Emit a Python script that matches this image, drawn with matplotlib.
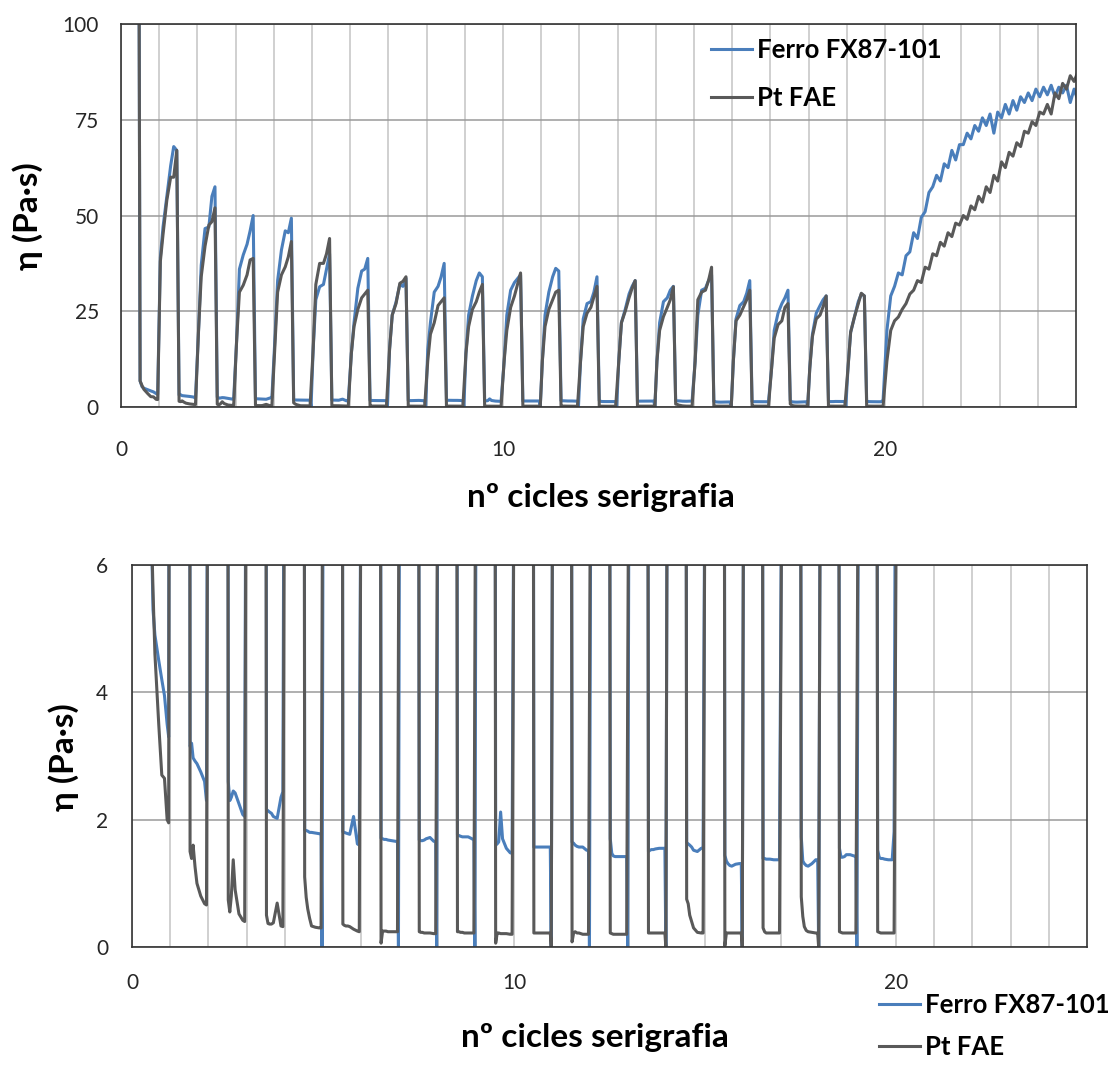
import numpy as np
import matplotlib.pyplot as plt
from matplotlib.lines import Line2D

plt.rcParams['font.family'] = ['Lato', 'DejaVu Sans']

# first sweep and the decay that follows it
start_x = [0.46, 0.50, 0.55, 0.60, 0.70, 0.78, 0.85, 0.92, 0.96]
ferro_start = [160, 6.8, 5.3, 4.9, 4.5, 4.2, 3.95, 3.5, 3.3]
pt_start = [160, 6.8, 5.6, 4.6, 3.5, 2.7, 2.65, 2.0, 1.95]

cycles = list(range(1, 20))

# sample points inside each cycle: printing stroke, then rest
stroke_t = [0.03, 0.10, 0.20, 0.30, 0.38, 0.46]
rest_t = [0.52, 0.56, 0.60, 0.65, 0.70, 0.80, 0.90, 0.95]

ferro_stroke = [
    [39, 47, 55, 63, 68, 67],
    [20, 37, 46.6, 47, 55, 57.5],
    [18, 36, 39.7, 42.5, 46, 50],
    [18, 33, 41, 46, 45.5, 49.3],
    [15, 28, 31.4, 32, 36, 40],
    [14, 22, 31, 35.5, 36, 38.8],
    [15, 24, 27.4, 32, 31.5, 33.6],
    [15, 22, 30, 31.5, 34, 37.5],
    [14, 24, 29, 33, 35, 34],
    [12, 24, 30.5, 32.5, 33.5, 34.5],
    [12, 24, 30, 34, 36.2, 35.5],
    [12, 23, 27, 27.5, 30, 34],
    [12, 22, 25.5, 29.5, 31.5, 33],
    [12, 22, 27.5, 28.5, 30.5, 31.5],
    [12, 24, 30.5, 31, 33, 34.5],
    [12, 23, 26.5, 27.5, 29.7, 33],
    [10, 20, 24.5, 27, 28.5, 30.5],
    [10, 19, 24.5, 26.5, 28, 29],
    [10, 19.5, 23.5, 27.5, 29.5, 29],
]
pt_stroke = [
    [38, 45, 54, 60, 60, 67],
    [20, 34, 42, 47.5, 48.4, 52],
    [18, 30, 31.8, 34.5, 38.4, 38.8],
    [16, 30, 34.5, 36.6, 39.2, 43.2],
    [15, 32, 37.5, 37.5, 40, 44],
    [14, 21, 25.5, 28.5, 29.5, 30.5],
    [15, 24, 27, 32.3, 32.8, 34],
    [12, 19, 22, 26.5, 27.5, 28.5],
    [14, 21, 25.5, 27.5, 30, 32],
    [12, 20, 26, 29, 32, 35],
    [12, 21, 25.5, 28, 30, 30.5],
    [12, 21, 24.5, 26, 28.8, 31.5],
    [12, 22, 25, 28.5, 31, 33],
    [12, 20, 23.6, 26, 28, 31.4],
    [12, 28, 30, 30.5, 33, 36.5],
    [12, 22.5, 24, 26.2, 28, 30.5],
    [10, 18, 21.5, 22.5, 26, 27],
    [10, 18.4, 23, 24, 26.2, 29],
    [10, 19.5, 23.5, 27, 29.7, 29],
]

ferro_rest = [
    [3.15, 3.2, 2.97, 2.92, 2.88, 2.75, 2.6, 2.3],
    [2.6, 2.3, 2.35, 2.45, 2.42, 2.25, 2.08, 2.05],
    [2.16, 2.14, 2.12, 2.1, 2.05, 2.02, 2.35, 2.44],
    [1.84, 1.83, 1.82, 1.8, 1.8, 1.79, 1.78, 1.78],
    [1.81, 1.8, 1.79, 1.78, 1.77, 2.05, 1.62, 1.6],
    [1.71, 1.7, 1.69, 1.69, 1.68, 1.67, 1.66, 1.66],
    [1.68, 1.67, 1.67, 1.68, 1.7, 1.72, 1.66, 1.66],
    [1.76, 1.75, 1.74, 1.73, 1.73, 1.73, 1.7, 1.68],
    [1.6, 1.62, 1.65, 2.12, 1.7, 1.55, 1.48, 1.47],
    [1.57, 1.57, 1.57, 1.57, 1.57, 1.57, 1.57, 1.57],
    [1.65, 1.63, 1.6, 1.58, 1.57, 1.57, 1.52, 1.52],
    [1.7, 1.47, 1.43, 1.42, 1.42, 1.42, 1.42, 1.42],
    [1.5, 1.52, 1.53, 1.53, 1.54, 1.55, 1.55, 1.55],
    [1.64, 1.62, 1.6, 1.57, 1.52, 1.5, 1.55, 1.55],
    [1.44, 1.35, 1.31, 1.28, 1.27, 1.3, 1.31, 1.31],
    [1.39, 1.39, 1.38, 1.38, 1.38, 1.37, 1.37, 1.37],
    [1.73, 1.35, 1.31, 1.28, 1.27, 1.31, 1.37, 1.37],
    [1.55, 1.41, 1.41, 1.42, 1.45, 1.45, 1.43, 1.43],
    [1.52, 1.41, 1.39, 1.39, 1.38, 1.37, 1.37, 1.81],
]
pt_rest = [
    [1.5, 1.39, 1.6, 1.26, 1.0, 0.8, 0.68, 0.66],
    [0.74, 0.55, 0.8, 1.37, 0.9, 0.52, 0.42, 0.4],
    [0.5, 0.37, 0.36, 0.36, 0.38, 0.69, 0.33, 0.32],
    [1.1, 0.78, 0.6, 0.45, 0.33, 0.31, 0.3, 0.3],
    [0.36, 0.34, 0.33, 0.33, 0.32, 0.28, 0.25, 0.24],
    [0.06, 0.25, 0.25, 0.25, 0.24, 0.24, 0.24, 0.24],
    [0.24, 0.23, 0.23, 0.22, 0.22, 0.22, 0.21, 0.21],
    [0.24, 0.24, 0.23, 0.23, 0.22, 0.22, 0.22, 0.22],
    [0.06, 0.22, 0.22, 0.21, 0.21, 0.21, 0.2, 0.2],
    [0.22, 0.22, 0.22, 0.22, 0.22, 0.22, 0.22, 0.22],
    [0.08, 0.22, 0.24, 0.22, 0.22, 0.2, 0.2, 0.2],
    [0.22, 0.21, 0.2, 0.2, 0.2, 0.2, 0.2, 0.2],
    [0.22, 0.22, 0.22, 0.22, 0.22, 0.22, 0.22, 0.22],
    [0.75, 0.68, 0.5, 0.4, 0.3, 0.23, 0.22, 0.22],
    [0.02, 0.22, 0.22, 0.22, 0.22, 0.22, 0.22, 0.22],
    [0.3, 0.24, 0.22, 0.22, 0.22, 0.22, 0.22, 0.22],
    [0.79, 0.48, 0.32, 0.26, 0.24, 0.23, 0.22, 0.22],
    [0.24, 0.23, 0.22, 0.22, 0.22, 0.22, 0.22, 0.22],
    [0.24, 0.23, 0.22, 0.22, 0.22, 0.22, 0.22, 0.22],
]

# reading taken just before the next stroke (None where there is none)
dip_t = 0.975
ferro_dip = [None, None, None, 0, None, 0, 0, 0, None, 0,
             0, 0, 0, None, 0, None, 0, 0, None]
pt_dip = [None, None, None, None, None, None, None, None, None, 0,
          None, None, 0, None, 0, None, 0, None, None]

# continuous shearing after cycle 20
tail_x = np.round(np.arange(20.05, 25.1, 0.1), 2)
ferro_tail = [20, 29, 31.5, 35, 34.5, 39.5, 40.5, 45.5, 44, 49.5,
              51, 56, 57.5, 60.5, 59, 63.5, 62.5, 67, 64.5, 68.5,
              68.5, 71.5, 70, 73.5, 72, 75.5, 73.5, 76.5, 71.5, 77,
              75.5, 79, 76.5, 80, 77.5, 81, 79.5, 82, 80, 83,
              81, 83.5, 81.5, 84, 81, 83.5, 82, 84, 79.5, 83, 80]
pt_tail = [12, 20, 22.5, 23.5, 25.5, 27, 29.5, 30.5, 33, 32.5,
           36.5, 36, 40, 39.5, 43, 42, 45.5, 44.5, 48, 47.5,
           50, 49, 52.5, 51.5, 55, 53.5, 57.5, 56, 60.5, 59,
           64, 62.5, 66.5, 65.5, 69, 68, 72, 71.5, 74.5, 73.5,
           77, 76.5, 79, 76.5, 82, 80.5, 84.5, 83, 86.5, 85, 87.5]

labels = ['Ferro FX87-101', 'Pt FAE']
colors = ['#4a7ebb', '#595959']


def build_series(start_y, stroke, rest, dip, tail_y):
    xs, ys = list(start_x), list(start_y)
    for n, s, r, d in zip(cycles, stroke, rest, dip):
        xs += [n + t for t in stroke_t]
        ys += s
        xs += [n + t for t in rest_t]
        ys += r
        if d is not None:
            xs.append(n + dip_t)
            ys.append(d)
    xs += list(tail_x)
    ys += tail_y
    return np.array(xs), np.array(ys)


series = [
    build_series(ferro_start, ferro_stroke, ferro_rest, ferro_dip, ferro_tail),
    build_series(pt_start, pt_stroke, pt_rest, pt_dip, pt_tail),
]

W, H = 1114, 1071
fig = plt.figure(figsize=(W / 100, H / 100), dpi=100)


def fx(px):
    return px / W


def fy(py):
    return 1 - py / H


ax1 = fig.add_axes([fx(121), fy(407), fx(1076 - 121), (407 - 24) / H])
ax2 = fig.add_axes([fx(132), fy(947), fx(1087 - 132), (947 - 565) / H])

LW = 2.2
panels = [(ax1, [0, 25, 50, 75, 100], 16, 24), (ax2, [0, 2, 4, 6], 17, 19)]
for ax, yticks, ypad, xpad in panels:
    for (x, y), c in zip(series, colors):
        ax.plot(x, y, color=c, lw=LW, solid_joinstyle='round')
    ax.set_xlim(0, 25)
    ax.set_ylim(yticks[0], yticks[-1])
    ax.set_yticks(yticks)
    ax.set_xticks([0, 10, 20])
    ax.set_xticks(range(1, 25), minor=True)
    ax.tick_params(which='both', length=0, labelsize=15, labelcolor='#262626')
    ax.tick_params(axis='y', pad=ypad)
    ax.tick_params(axis='x', pad=xpad)
    ax.grid(True, axis='x', which='both', color='#c8c8c8', lw=1.2)
    ax.grid(True, axis='y', which='major', color='#9a9a9a', lw=1.1)
    ax.set_axisbelow(True)
    for sp in ax.spines.values():
        sp.set_color('#333333')
        sp.set_linewidth(1.2)

label_kw = dict(fontsize=24, fontweight='bold', color='#000000')
fig.text(fx(28), fy(216), 'η (Pa·s)', rotation=90, ha='center', va='center', **label_kw)
fig.text(fx(64), fy(757), 'η (Pa·s)', rotation=90, ha='center', va='center', **label_kw)
fig.text(fx(601), fy(497), 'nº cicles serigrafia', ha='center', va='center', **label_kw)
fig.text(fx(595), fy(1037), 'nº cicles serigrafia', ha='center', va='center', **label_kw)

handles = [Line2D([], [], color=c, lw=LW) for c in colors]
leg_kw = dict(frameon=False, loc='upper left', borderpad=0, borderaxespad=0,
              handlelength=1.6, handletextpad=0.2,
              prop={'size': 18.5, 'weight': 'bold'})
fig.legend(handles, labels, bbox_to_anchor=(fx(711), fy(38)),
           labelspacing=0.95, **leg_kw)
fig.legend(handles, labels, bbox_to_anchor=(fx(879), fy(993)),
           labelspacing=0.7, **leg_kw)

fig.savefig('out.png', dpi=100)
